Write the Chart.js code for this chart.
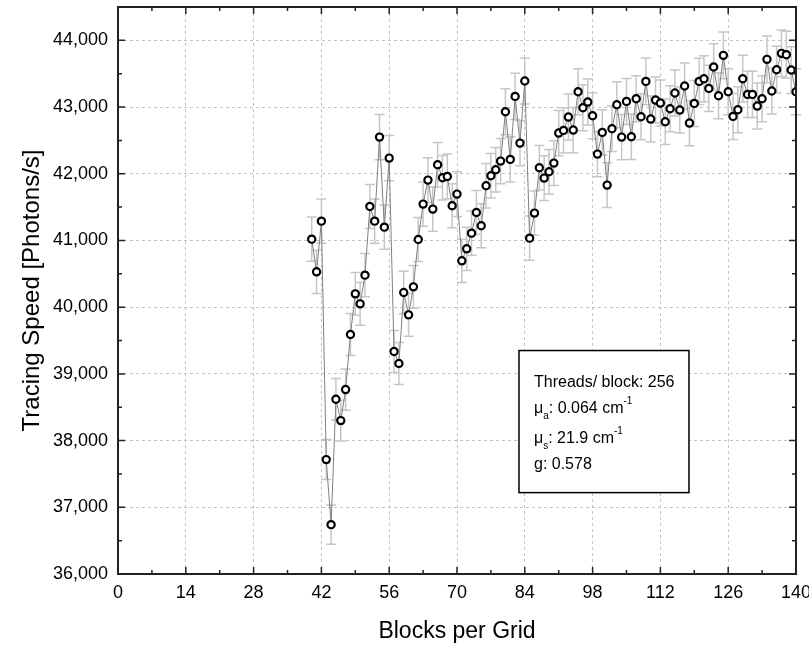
<!DOCTYPE html>
<html>
<head>
<meta charset="utf-8">
<script src="https://cdn.jsdelivr.net/npm/chart.js@4.4.0/dist/chart.umd.min.js"></script>
<style>
  html, body { margin: 0; padding: 0; background: #fff; }
  #wrap { width: 809px; height: 645px; }
</style>
</head>
<body>
<div id="wrap"><canvas id="speedChart" width="809" height="645"></canvas></div>
<script>
// Blocks per grid (x) and measured tracing speed with its error
const blocksPerGrid = [
  40, 41, 42, 43, 44, 45, 46, 47, 48, 49,
  50, 51, 52, 53, 54, 55, 56, 57, 58, 59,
  60, 61, 62, 63, 64, 65, 66, 67, 68, 69,
  70, 71, 72, 73, 74, 75, 76, 77, 78, 79,
  80, 81, 82, 83, 84, 85, 86, 87, 88, 89,
  90, 91, 92, 93, 94, 95, 96, 97, 98, 99,
  100, 101, 102, 103, 104, 105, 106, 107, 108, 109,
  110, 111, 112, 113, 114, 115, 116, 117, 118, 119,
  120, 121, 122, 123, 124, 125, 126, 127, 128, 129,
  130, 131, 132, 133, 134, 135, 136, 137, 138, 139,
  140
];
const tracingSpeed = [
  41020, 40530, 41290, 37715, 36740, 38620, 38300, 38765, 39590, 40200,
  40050, 40480, 41510, 41290, 42550, 41200, 42235, 39335, 39155, 40220,
  39885, 40305, 41015, 41545, 41905, 41470, 42135, 41940, 41960, 41520,
  41695, 40695, 40875, 41110, 41420, 41220, 41820, 41970, 42060, 42190,
  42930, 42215, 43160, 42460, 43390, 41035, 41410, 42090, 41935, 42030,
  42160, 42610, 42650, 42850, 42655, 43230, 42990, 43075, 42870, 42295,
  42620, 41830, 42675, 43035, 42550, 43085, 42555, 43125, 42855, 43385,
  42820, 43105, 43060, 42780, 42975, 43210, 42955, 43315, 42760, 43055,
  43385, 43425, 43280, 43600, 43170, 43775, 43230, 42860, 42960, 43425,
  43190, 43190, 43015, 43125, 43715, 43240, 43560, 43805, 43785, 43555,
  43230
];
const speedError = [
  330, 325, 330, 300, 295, 310, 305, 310, 315, 320,
  320, 325, 330, 330, 340, 330, 340, 315, 315, 320,
  320, 320, 330, 330, 335, 330, 335, 335, 335, 330,
  335, 325, 325, 330, 330, 330, 335, 335, 335, 340,
  345, 340, 345, 340, 345, 330, 330, 335, 335, 335,
  335, 340, 340, 345, 340, 345, 345, 345, 345, 340,
  340, 335, 340, 345, 340, 345, 340, 345, 345, 350,
  345, 345, 345, 340, 345, 345, 345, 345, 340, 345,
  345, 345, 345, 350, 345, 350, 345, 345, 345, 350,
  345, 345, 345, 345, 350, 345, 350, 350, 350, 350,
  345
];

const xTicks = [0, 14, 28, 42, 56, 70, 84, 98, 112, 126, 140];
const yTicks = [36000, 37000, 38000, 39000, 40000, 41000, 42000, 43000, 44000];

// text of the parameter box: [main, subscript, rest, superscript]
const infoLines = [
  ["Threads/ block: 256", "", "", ""],
  ["\u03bc", "a", ": 0.064 cm", "-1"],
  ["\u03bc", "s", ": 21.9 cm", "-1"],
  ["g: 0.578", "", "", ""]
];

const fontFamily = "'Liberation Sans', Arial, Helvetica, sans-serif";

// grey error bars drawn under the markers
const errorBars = {
  id: "errorBars",
  beforeDatasetsDraw(chart) {
    const { ctx, scales: { x, y } } = chart;
    ctx.save();
    ctx.strokeStyle = "#c6c6c6";
    ctx.lineWidth = 1.5;
    blocksPerGrid.forEach((b, i) => {
      const px = x.getPixelForValue(b);
      const top = y.getPixelForValue(tracingSpeed[i] + speedError[i]);
      const bot = y.getPixelForValue(tracingSpeed[i] - speedError[i]);
      ctx.beginPath();
      ctx.moveTo(px, top);
      ctx.lineTo(px, bot);
      ctx.moveTo(px - 5, top);
      ctx.lineTo(px + 5, top);
      ctx.moveTo(px - 5, bot);
      ctx.lineTo(px + 5, bot);
      ctx.stroke();
    });
    ctx.restore();
  }
};

// box frame, inward ticks on all four sides and the info box
const frame = {
  id: "frame",
  afterDraw(chart) {
    const { ctx, chartArea: a, scales: { x, y } } = chart;
    ctx.save();
    ctx.strokeStyle = "#222";
    ctx.lineWidth = 1.5;
    ctx.beginPath();
    for (let v = 0; v <= 140; v += 7) {
      const px = x.getPixelForValue(v);
      const len = v % 14 === 0 ? 7 : 4;
      ctx.moveTo(px, a.bottom);
      ctx.lineTo(px, a.bottom - len);
      ctx.moveTo(px, a.top);
      ctx.lineTo(px, a.top + len);
    }
    for (let v = 36000; v <= 44500; v += 500) {
      const py = y.getPixelForValue(v);
      const len = v % 1000 === 0 ? 7 : 4;
      ctx.moveTo(a.left, py);
      ctx.lineTo(a.left + len, py);
      ctx.moveTo(a.right, py);
      ctx.lineTo(a.right - len, py);
    }
    ctx.stroke();
    ctx.lineWidth = 2;
    ctx.strokeRect(a.left, a.top, a.right - a.left, a.bottom - a.top);

    // parameter box
    const bx = x.getPixelForValue(82.8);
    const bx2 = x.getPixelForValue(117.9);
    const by = y.getPixelForValue(39350);
    const by2 = y.getPixelForValue(37220);
    ctx.fillStyle = "#fff";
    ctx.fillRect(bx, by, bx2 - bx, by2 - by);
    ctx.lineWidth = 1.5;
    ctx.strokeStyle = "#000";
    ctx.strokeRect(bx, by, bx2 - bx, by2 - by);

    ctx.fillStyle = "#000";
    ctx.textBaseline = "alphabetic";
    const baselines = [387, 413, 443, 469];
    infoLines.forEach((ln, i) => {
      let tx = bx + 15;
      const base = baselines[i];
      ctx.font = "16px " + fontFamily;
      ctx.fillText(ln[0], tx, base);
      tx += ctx.measureText(ln[0]).width;
      if (ln[1]) {
        ctx.font = "10px " + fontFamily;
        ctx.fillText(ln[1], tx, base + 6);
        tx += ctx.measureText(ln[1]).width;
      }
      if (ln[2]) {
        ctx.font = "16px " + fontFamily;
        ctx.fillText(ln[2], tx, base);
        tx += ctx.measureText(ln[2]).width;
      }
      if (ln[3]) {
        ctx.font = "10px " + fontFamily;
        ctx.fillText(ln[3], tx, base - 9);
      }
    });
    ctx.restore();
  }
};

const ctx = document.getElementById("speedChart").getContext("2d");
new Chart(ctx, {
  type: "line",
  data: {
    datasets: [
      {
        data: blocksPerGrid.map((b, i) => ({ x: b, y: tracingSpeed[i] })),
        borderColor: "#808080",
        borderWidth: 1,
        pointRadius: 3.6,
        pointBorderWidth: 2.2,
        pointBorderColor: "#000",
        pointBackgroundColor: "#fff",
        tension: 0
      }
    ]
  },
  options: {
    responsive: false,
    animation: false,
    devicePixelRatio: 1,
    layout: { padding: { top: 7, right: 13, left: 0, bottom: 0 } },
    plugins: {
      legend: { display: false },
      tooltip: { enabled: false }
    },
    scales: {
      x: {
        type: "linear",
        min: 0,
        max: 140,
        afterBuildTicks(s) {
          s.ticks = xTicks.map((v) => ({ value: v }));
        },
        ticks: {
          padding: 8,
          autoSkip: false,
          color: "#000",
          font: { family: fontFamily, size: 18 }
        },
        grid: { color: "#c4c4c4", lineWidth: 1, drawTicks: false },
        border: { display: false, dash: [3, 3] },
        title: {
          display: true,
          text: "Blocks per Grid",
          color: "#000",
          font: { family: fontFamily, size: 23 },
          padding: { top: 0, bottom: 0 }
        },
        afterFit(s) {
          s.height = 71;
          s.paddingLeft = 0;
          s.paddingRight = 0;
        }
      },
      y: {
        min: 36000,
        max: 44500,
        afterBuildTicks(s) {
          s.ticks = yTicks.map((v) => ({ value: v }));
        },
        ticks: {
          padding: 10,
          autoSkip: false,
          color: "#000",
          font: { family: fontFamily, size: 18 },
          callback: (v) => v.toLocaleString("en-US")
        },
        grid: { color: "#c4c4c4", lineWidth: 1, drawTicks: false },
        border: { display: false, dash: [3, 3] },
        title: {
          display: true,
          text: "Tracing Speed [Photons/s]",
          color: "#000",
          font: { family: fontFamily, size: 24 },
          padding: { top: 18, bottom: 0 }
        },
        afterFit(s) {
          s.width = 118;
          s.paddingTop = 0;
          s.paddingBottom = 0;
        }
      }
    }
  },
  plugins: [errorBars, frame]
});
</script>
</body>
</html>
